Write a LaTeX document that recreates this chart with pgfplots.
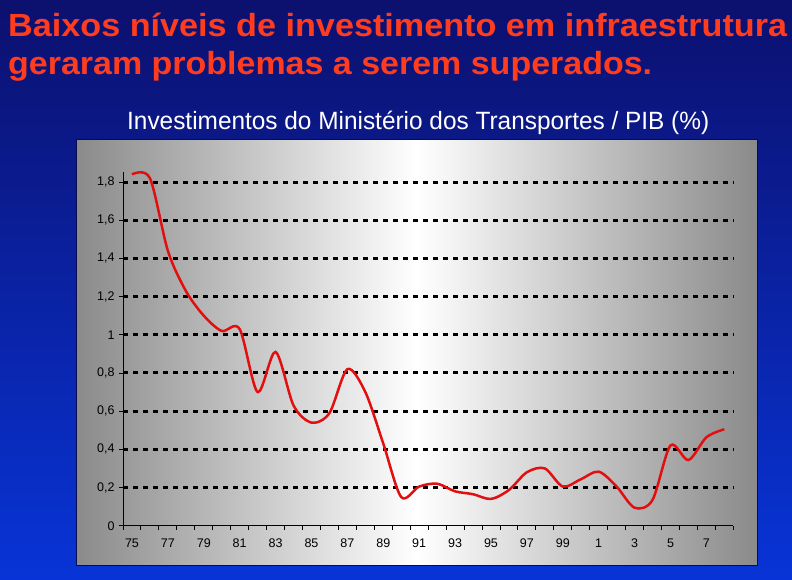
\documentclass[border=0pt]{standalone}
\usepackage{pgfplots}
\pgfplotsset{compat=1.18}
\usepackage{fontspec}
\setmainfont{Liberation Sans}
\definecolor{bgtop}{RGB}{12,16,110}
\definecolor{bgbot}{RGB}{8,52,215}
\definecolor{titlered}{RGB}{255,60,30}
\definecolor{boxgray}{RGB}{138,138,138}
\definecolor{linered}{RGB}{225,15,15}
\begin{document}
\begin{tikzpicture}[x=1pt,y=1pt]
\useasboundingbox (0,0) rectangle (792,580);
\shade[top color=bgtop,bottom color=bgbot] (0,0) rectangle (792,580);
\node[anchor=base west, text=titlered, inner sep=0] at (8,543)
  {\resizebox{779pt}{\height}{\fontsize{32}{36}\selectfont\bfseries Baixos níveis de investimento em infraestrutura}};
\node[anchor=base west, text=titlered, inner sep=0] at (8,505)
  {\resizebox{644pt}{\height}{\fontsize{32}{36}\selectfont\bfseries geraram problemas a serem superados.}};
\node[anchor=base west, text=white, inner sep=0] at (127,450)
  {\resizebox{582pt}{\height}{\fontsize{25}{28}\selectfont Investimentos do Ministério dos Transportes / PIB (\%)}};
\shade[left color=boxgray, right color=boxgray, middle color=white] (76,14.3) rectangle (757.5,440);
\draw[color=bgtop!70!black, line width=1pt] (76,14.3) rectangle (757.5,440);
\begin{axis}[
  at={(123pt,54.3pt)}, anchor=south west,
  scale only axis, width=610.3pt, height=353.2pt,
  xmin=1974.5, xmax=2008.5, ymin=0, ymax=1.85,
  axis x line*=bottom, axis y line*=left,
  axis line style={-, black, line width=0.9pt},
  xtick={1974.5,1975.5,...,2008.5},
  x tick label as interval,
  xticklabels={75,,77,,79,,81,,83,,85,,87,,89,,91,,93,,95,,97,,99,,1,,3,,5,,7,},
  ytick={0.2,0.4,0.6,0.8,1,1.2,1.4,1.6,1.8},
  extra y ticks={0},
  extra y tick style={grid=none},
  /pgf/number format/use comma,
  /pgf/number format/fixed,
  /pgf/number format/precision=1,
  /pgf/number format/assume math mode=true,
  tick align=outside, major tick length=4pt,
  tick style={black, line width=0.9pt},
  ticklabel style={font=\fontsize{12.5}{14}\selectfont, text=black},
  xticklabel style={yshift=-6pt},
  yticklabel style={xshift=-1pt},
  ymajorgrids,
  major grid style={black, line width=3pt, dash pattern=on 4.5pt off 5.5pt},
  clip=false,
]
\addplot[linered, line width=2.5pt, smooth, tension=0.5] coordinates {
(1975,1.84) (1976,1.82) (1977,1.44) (1978,1.23) (1979,1.10) (1980,1.02)
(1981,1.03) (1982,0.70) (1983,0.91) (1984,0.63) (1985,0.54) (1986,0.59)
(1987,0.82) (1988,0.70) (1989,0.43) (1990,0.15) (1991,0.205) (1992,0.22)
(1993,0.18) (1994,0.165) (1995,0.14) (1996,0.187) (1997,0.28) (1998,0.30)
(1999,0.205) (2000,0.243) (2001,0.283) (2002,0.205) (2003,0.094) (2004,0.135)
(2005,0.42) (2006,0.344) (2007,0.463) (2008,0.505)
};
\end{axis}
\end{tikzpicture}
\end{document}
